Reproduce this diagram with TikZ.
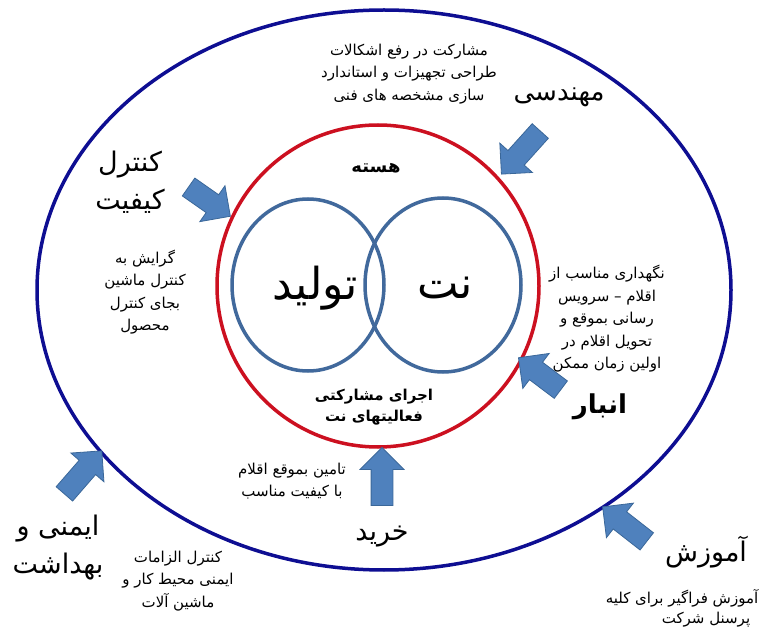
\documentclass[tikz,border=0pt]{standalone}
\usepackage{fontspec}
\setmainfont{DejaVu Sans}
\newfontfamily\fa[Script=Arabic]{DejaVu Sans}
\usetikzlibrary{shapes.arrows}
\TeXXeTstate=1
\definecolor{outerblue}{HTML}{0E0E92}
\definecolor{corered}{HTML}{CC1020}
\definecolor{vennblue}{HTML}{41699C}
\definecolor{arrowfill}{HTML}{4F81BD}
\definecolor{arrowline}{HTML}{3A6799}
\tikzset{
  bigtxt/.style={font=\fa\fontsize{27}{38}\selectfont, align=center, inner sep=0pt},
  medtxt/.style={font=\fa\fontsize{15}{22.5}\selectfont, align=center, inner sep=0pt},
  blockarrow/.style={single arrow, draw=arrowline, fill=arrowfill, line width=0.8pt,
     inner xsep=0pt, inner ysep=10.5pt, single arrow head extend=11pt,
     single arrow head indent=0pt, minimum height=#1},
  ring/.style={line width=3.5pt}
}
\begin{document}
\begin{tikzpicture}[x=1pt,y=-1pt]
\useasboundingbox (0,0) rectangle (764,631);
\fill[white] (0,0) rectangle (764,631);

% rings
\draw[ring, outerblue] (384,290) ellipse [x radius=347, y radius=280];
\draw[ring, corered] (378,286) circle [radius=161];
\draw[ring, vennblue] (308,285) ellipse [x radius=76, y radius=86];
\draw[ring, vennblue] (443,285) ellipse [x radius=78, y radius=87];

% core texts
\node[font=\fa\bfseries\fontsize{18}{20}\selectfont, inner sep=0pt] (core) at (376,168) {\beginR هسته\endR};
\node[font=\fa\fontsize{44}{50}\selectfont, inner sep=0pt] (prod) at (315,288) {\beginR تولید\endR};
\node[font=\fa\fontsize{44}{50}\selectfont, inner sep=0pt] (maint) at (445,288) {\beginR نت\endR};
\node[medtxt, font=\fa\bfseries\fontsize{15}{21}\selectfont] (joint) at (374,407) {\beginR اجرای مشارکتی\endR\\\beginR فعالیتهای نت\endR};

% engineering
\node[medtxt] (engtxt) at (409,74) {\beginR مشارکت در رفع اشکالات\endR\\\beginR طراحی تجهیزات و استاندارد\endR\\\beginR سازی مشخصه های فنی\endR};
\node[bigtxt, font=\fa\fontsize{26}{38}\selectfont] (eng) at (559,97) {\beginR مهندسی\endR};
\node[blockarrow=58pt, rotate=228] (engarrow) at (524.5,148.5) {};

% quality control
\node[bigtxt] (qc) at (130,182) {\beginR کنترل\endR\\\beginR کیفیت\endR};
\node[blockarrow=51pt, rotate=-35] (qcarrow) at (205,198.5) {};
\node[medtxt] (qctxt) at (145,292) {\beginR گرایش به\endR\\\beginR کنترل ماشین\endR\\\beginR بجای کنترل\endR\\\beginR محصول\endR};

% storage
\node[medtxt] (sttxt) at (607,319) {\beginR نگهداری مناسب از\endR\\\beginR اقلام – سرویس\endR\\\beginR رسانی بموقع  و\endR\\\beginR تحویل اقلام در\endR\\\beginR اولین زمان ممکن\endR};
\node[bigtxt, font=\fa\bfseries\fontsize{26}{38}\selectfont] (st) at (600,407) {\beginR انبار\endR};
\node[blockarrow=53pt, rotate=143] (starrow) at (544,377) {};

% purchase
\node[medtxt] (putxt) at (292,481) {\beginR تامین بموقع اقلام\endR\\\beginR با کیفیت مناسب\endR};
\node[bigtxt] (pu) at (382,537) {\beginR خرید\endR};
\node[blockarrow=58pt, rotate=90] (puarrow) at (382,482) {};

% training
\node[bigtxt] (tr) at (706,552) {\beginR آموزش\endR};
\node[blockarrow=56pt, rotate=142] (trarrow) at (629,527.5) {};
\node[medtxt] (trtxt1) at (682,598) {\beginR آموزش فراگیر برای کلیه\endR};
\node[medtxt] (trtxt2) at (706,620) {\beginR پرسنل شرکت\endR};

% safety
\node[bigtxt] (sf) at (58,548) {\beginR ایمنی و\endR\\\beginR بهداشت\endR};
\node[blockarrow=57pt, rotate=49] (sfarrow) at (79.5,476.5) {};
\node[medtxt] (sftxt) at (178,581) {\beginR کنترل الزامات\endR\\\beginR ایمنی محیط کار و\endR\\\beginR ماشین آلات\endR};
\end{tikzpicture}
\end{document}
